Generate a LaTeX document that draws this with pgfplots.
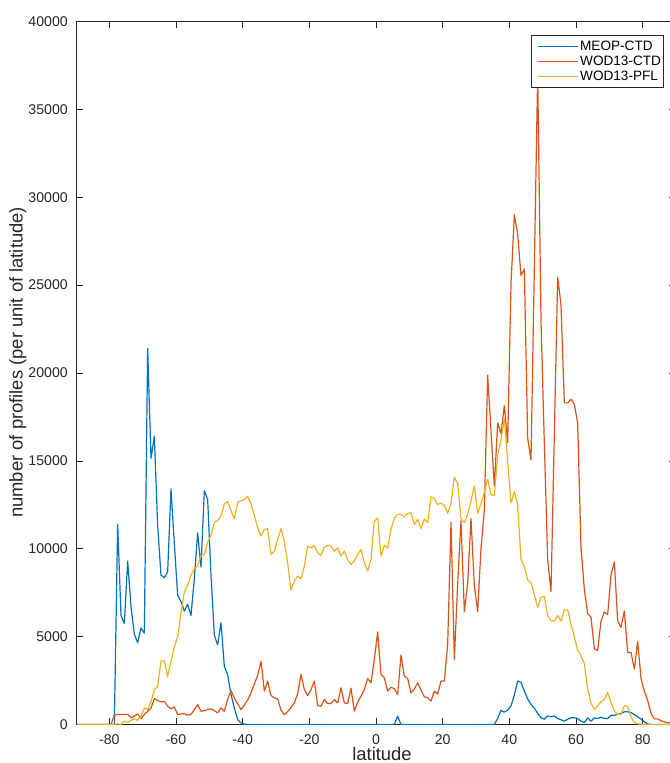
\documentclass[border=0pt]{standalone}
\usepackage{fontspec}
\setmainfont{Liberation Sans}
\usepackage{pgfplots}
\usepackage{pgfplotstable}
\pgfplotsset{compat=1.18}

\definecolor{mblue}{rgb}{0,0.447,0.741}
\definecolor{mred}{rgb}{0.85,0.325,0.098}
\definecolor{myellow}{rgb}{0.929,0.694,0.125}
\definecolor{axgray}{rgb}{0.15,0.15,0.15}

% profiles per 1-degree latitude bin (bin centres)
\pgfplotstableread{
lat meop wodctd wodpfl
-89.5 0 0 0
-88.5 0 0 0
-87.5 0 0 0
-86.5 0 0 0
-85.5 0 0 0
-84.5 0 0 0
-83.5 0 0 0
-82.5 0 0 0
-81.5 0 0 0
-80.5 0 0 0
-79.5 0 0 0
-78.5 0 530 0
-77.5 11400 570 40
-76.5 6200 570 0
-75.5 5750 570 190
-74.5 9300 570 130
-73.5 6700 380 230
-72.5 5150 470 320
-71.5 4650 600 230
-70.5 5500 340 470
-69.5 5200 570 940
-68.5 21400 750 850
-67.5 15150 940 1300
-66.5 16400 1470 1980
-65.5 11300 1360 2170
-64.5 8500 1280 3620
-63.5 8350 1320 3620
-62.5 8700 1040 2740
-61.5 13400 890 3590
-60.5 10300 1000 4430
-59.5 7350 570 5000
-58.5 7000 600 6320
-57.5 6450 620 7550
-56.5 6850 530 7930
-55.5 6200 570 8490
-54.5 8300 850 8870
-53.5 10900 1130 9020
-52.5 8960 750 9620
-51.5 13300 790 9660
-50.5 12800 850 10380
-49.5 8500 890 10760
-48.5 5090 790 11510
-47.5 4530 660 11600
-46.5 5790 940 11890
-45.5 3300 750 12550
-44.5 2830 1420 12680
-43.5 1700 1920 12170
-42.5 940 1510 11700
-41.5 280 1170 12640
-40.5 90 850 12740
-39.5 20 1100 12790
-38.5 0 1400 12980
-37.5 0 1800 12550
-36.5 0 2300 11900
-35.5 0 2800 11200
-34.5 0 3600 10720
-33.5 0 1900 11100
-32.5 0 2470 11150
-31.5 0 1650 9670
-30.5 0 1520 9860
-29.5 0 1460 10530
-28.5 0 820 11140
-27.5 0 550 10430
-26.5 0 740 9200
-25.5 0 950 7640
-24.5 0 1230 8160
-23.5 0 1760 8440
-22.5 0 2850 8290
-21.5 0 1990 9010
-20.5 0 1650 10150
-19.5 0 1990 10050
-18.5 0 2470 10190
-17.5 0 1080 9770
-16.5 0 1040 9620
-15.5 0 1420 10090
-14.5 0 1200 10190
-13.5 0 1200 10150
-12.5 0 1420 9860
-11.5 0 1230 10050
-10.5 0 2090 9580
-9.5 0 1230 9860
-8.5 0 1200 9390
-7.5 0 2070 9110
-6.5 0 760 9300
-5.5 0 1270 9670
-4.5 0 1610 9960
-3.5 0 1990 9200
-2.5 0 2620 8730
-1.5 0 2370 9390
-0.5 0 3700 11570
0.5 0 5270 11760
1.5 0 2850 9580
2.5 0 2660 10190
3.5 0 1900 10050
4.5 0 2120 11100
5.5 0 2030 11760
6.5 470 1710 11950
7.5 0 3950 11950
8.5 0 2750 11820
9.5 0 2620 12010
10.5 0 1800 12050
11.5 0 2030 11380
12.5 0 2370 11670
13.5 0 1950 11150
14.5 0 1580 11700
15.5 0 1520 11480
16.5 0 1330 12960
17.5 0 1900 12840
18.5 0 1730 12520
19.5 0 2470 12590
20.5 0 2470 12470
21.5 0 4570 12020
22.5 0 11500 12590
23.5 0 3700 14070
24.5 0 8000 13700
25.5 0 11600 11730
26.5 0 6420 11480
27.5 0 8020 11980
28.5 0 11730 12720
29.5 0 7900 13580
30.5 0 6420 12020
31.5 0 10000 12590
32.5 0 12220 13210
33.5 0 19880 13950
34.5 0 16670 13090
35.5 0 13580 13010
36.5 350 17160 15300
37.5 800 16540 16200
38.5 700 18150 17400
39.5 820 16050 15000
40.5 1060 25060 12600
41.5 1670 29010 13260
42.5 2470 27900 12470
43.5 2400 25550 9380
44.5 1900 25920 9010
45.5 1450 16300 8220
46.5 1150 15060 8070
47.5 930 26000 7400
48.5 630 37000 6670
49.5 380 23000 7230
50.5 300 16000 7300
51.5 490 9400 6200
52.5 440 7550 5890
53.5 490 16500 5890
54.5 340 25450 6200
55.5 270 23870 5890
56.5 190 18300 6520
57.5 300 18300 6520
58.5 380 18510 5700
59.5 380 18230 5000
60.5 340 17140 4220
61.5 190 10090 3900
62.5 110 7680 3470
63.5 380 6310 2030
64.5 190 6100 1220
65.5 380 4310 850
66.5 340 4210 1050
67.5 420 5890 1300
68.5 340 6410 1420
69.5 340 6250 1820
70.5 530 8520 1250
71.5 530 9250 780
72.5 570 5890 550
73.5 630 5530 570
74.5 720 6460 1080
75.5 720 4100 1030
76.5 680 4100 420
77.5 570 3150 120
78.5 440 4730 40
79.5 300 2630 20
80.5 150 1890 10
81.5 40 1370 0
82.5 0 630 0
83.5 0 320 0
84.5 0 320 0
85.5 0 210 0
86.5 0 150 0
87.5 0 100 0
88.5 0 80 0
89.5 0 50 0
}\profiles

\begin{document}
\begin{tikzpicture}
\begin{axis}[
  at={(0pt,0pt)}, anchor=south west,
  scale only axis, width=450pt, height=527.25pt,
  xmin=-90, xmax=90, ymin=0, ymax=40000,
  xtick={-80,-60,...,80},
  ytick={0,5000,...,40000},
  scaled y ticks=false,
  /pgf/number format/assume math mode=true,
  /pgf/number format/set thousands separator={},
  tick align=inside,
  major tick length=5pt,
  axis line style={axgray, line width=0.5pt},
  tick style={axgray, line width=0.5pt},
  ticklabel style={font=\fontsize{10.6}{12}\selectfont, text=axgray},
  xticklabel style={inner sep=0pt, yshift=-7.6pt},
  yticklabel style={inner sep=0pt, xshift=-6pt},
  xlabel={latitude},
  ylabel={number of profiles (per unit of latitude)},
  label style={font=\fontsize{13.8}{15}\selectfont, text=axgray},
  xlabel style={at={(axis description cs:0.51,0)}, anchor=north, inner sep=0pt, yshift=-17pt},
  ylabel style={at={(axis description cs:-0.0967,0.515)}, anchor=center},
  legend style={at={(0.98,0.981)}, anchor=north east, draw=axgray, fill=white,
    line width=0.5pt, font=\fontsize{10.2}{12}\selectfont,
    inner xsep=0.5pt, inner ysep=3.2pt, row sep=0pt, column sep=0pt,
    nodes={inner xsep=1.5pt, inner ysep=0pt, text height=8.5pt, text depth=2.5pt}},
  legend cell align=left,
  legend image code/.code={\path (0pt,0pt); \draw[#1] (4pt,0pt) -- (34pt,0pt);},
  line join=round,
]
\addplot[mblue, line width=0.9pt] table[x=lat, y=meop] {\profiles};
\addlegendentry{MEOP-CTD}
\addplot[mred, line width=0.9pt] table[x=lat, y=wodctd] {\profiles};
\addlegendentry{WOD13-CTD}
\addplot[myellow, line width=0.9pt] table[x=lat, y=wodpfl] {\profiles};
\addlegendentry{WOD13-PFL}
\end{axis}
\pgfresetboundingbox
\useasboundingbox (-57pt,-28.875pt) rectangle (445.5pt,543.375pt);
\end{tikzpicture}
\end{document}
